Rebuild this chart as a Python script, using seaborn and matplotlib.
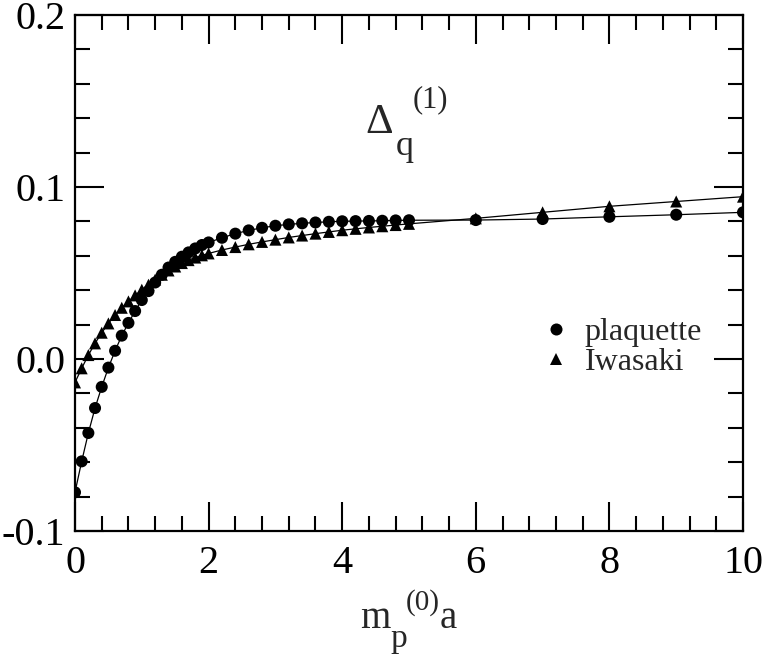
import matplotlib
matplotlib.use("Agg")
import matplotlib.pyplot as plt
from matplotlib.ticker import MultipleLocator
import seaborn as sns
import pandas as pd

# ==============================
# DADOS
# ==============================
mass = [0.0, 0.1, 0.2, 0.3, 0.4, 0.5, 0.6, 0.7, 0.8, 0.9,
        1.0, 1.1, 1.2, 1.3, 1.4, 1.5, 1.6, 1.7, 1.8, 1.9,
        2.0, 2.2, 2.4, 2.6, 2.8, 3.0, 3.2, 3.4, 3.6, 3.8,
        4.0, 4.2, 4.4, 4.6, 4.8, 5.0, 6.0, 7.0, 8.0, 9.0, 10.0]

plaquette = [-0.0775, -0.0595, -0.0430, -0.0285, -0.0162, -0.0050, 0.0048, 0.0136, 0.0210, 0.0279,
             0.0343, 0.0395, 0.0445, 0.0490, 0.0532, 0.0565, 0.0595, 0.0620, 0.0643, 0.0663,
             0.0678, 0.0705, 0.0729, 0.0748, 0.0763, 0.0775, 0.0783, 0.0789, 0.0794, 0.0798,
             0.0801, 0.0802, 0.0803, 0.0804, 0.0806, 0.0807, 0.0808, 0.0814, 0.0827, 0.0839, 0.0853]

iwasaki = [-0.0136, -0.0054, 0.0023, 0.0091, 0.0153, 0.0207, 0.0256, 0.0298, 0.0335, 0.0370,
           0.0403, 0.0432, 0.0462, 0.0490, 0.0515, 0.0538, 0.0558, 0.0575, 0.0590, 0.0603,
           0.0614, 0.0634, 0.0651, 0.0667, 0.0681, 0.0694, 0.0707, 0.0718, 0.0729, 0.0739,
           0.0749, 0.0757, 0.0765, 0.0772, 0.0779, 0.0786, 0.0818, 0.0853, 0.0888, 0.0916, 0.0944]

series_names = ["plaquette", "Iwasaki"]

data = pd.concat([
    pd.DataFrame({"m": mass, "delta": plaquette, "action": "plaquette"}),
    pd.DataFrame({"m": mass, "delta": iwasaki, "action": "Iwasaki"}),
], ignore_index=True)

# ==============================
# ESTILO
# ==============================
sns.set_style("ticks")
plt.rcParams["font.family"] = ["Liberation Serif", "DejaVu Serif"]

W, H = 763, 655
fig = plt.figure(figsize=(W / 100, H / 100), dpi=100)
ax = fig.add_axes([0.0983, 0.1893, 0.8755, 0.7877])

palette = {"plaquette": "black", "Iwasaki": "black"}
markers = {"plaquette": "o", "Iwasaki": "^"}

sns.lineplot(data=data, x="m", y="delta", hue="action", units="action",
             estimator=None, palette=palette, linewidth=0.9, legend=False, ax=ax)
sns.scatterplot(data=data, x="m", y="delta", hue="action", style="action",
                hue_order=series_names, style_order=series_names,
                palette=palette, markers=markers, s=75, edgecolor="black",
                linewidth=0, ax=ax, zorder=3)

ax.set_xlim(0, 10)
ax.set_ylim(-0.1, 0.2)
ax.xaxis.set_minor_locator(MultipleLocator(0.4))
ax.yaxis.set_minor_locator(MultipleLocator(0.02))
ax.set_xticks([0, 2, 4, 6, 8, 10])
ax.set_xticklabels(["0", "2", "4", "6", "8", "10"])
ax.set_yticks([-0.1, 0.0, 0.1, 0.2])
ax.set_yticklabels(["-0.1", "0.0", "0.1", "0.2"])

ax.tick_params(which="both", direction="in", top=True, right=True, width=1.5,
               labelsize=29, colors="black")
ax.tick_params(which="major", length=21)
ax.tick_params(which="minor", length=11)
ax.tick_params(axis="x", which="major", pad=10)
ax.tick_params(axis="y", which="major", pad=7)
for sp in ax.spines.values():
    sp.set_linewidth(1.6)
    sp.set_color("black")

ax.set_xlabel("")
ax.set_ylabel("")

# rótulo do eixo x: m_p^(0) a
def ftext(px, py, s, size):
    fig.text(px / W, 1 - py / H, s, fontsize=size, ha="left", va="baseline")

ftext(360, 628, "m", 28)
ftext(390, 647, "p", 24)
ftext(406, 610, "(0)", 21)
ftext(440, 628, "a", 28)

# rótulo Delta_q^(1)
ftext(365, 133, "Δ", 31)
ftext(396, 155, "q", 26)
ftext(413, 107, "(1)", 22)

# legenda só com marcadores
handles, labels = ax.get_legend_handles_labels()
ax.legend(handles, labels, loc="center left", bbox_to_anchor=(0.672, 0.356),
          frameon=False, fontsize=23, handlelength=1.0, handletextpad=0.4,
          labelspacing=0.0, borderpad=0)

fig.savefig("out.png", dpi=100)
